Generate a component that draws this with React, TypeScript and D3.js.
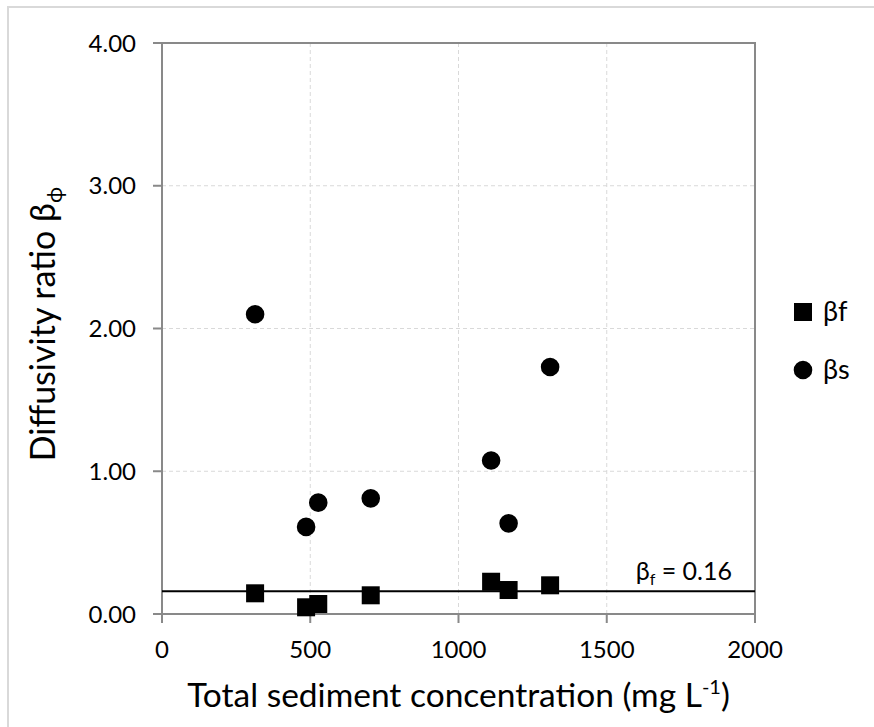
import React from "react";
import * as d3 from "d3";

const concentration = [314, 486, 527, 704, 1110, 1169, 1309];
const betaF = [0.145, 0.047, 0.07, 0.131, 0.226, 0.168, 0.201];
const betaS = [2.1, 0.61, 0.78, 0.81, 1.075, 0.635, 1.73];
const betaFMean = 0.16;
const xTicks = [0, 500, 1000, 1500, 2000];
const yTicks = [0, 1, 2, 3, 4];

const FONT = "Lato, 'Open Sans', sans-serif";

export default function App() {
  const W = 874, H = 727;
  const x = d3.scaleLinear().domain([0, 2000]).range([162, 755]);
  const y = d3.scaleLinear().domain([0, 4]).range([614, 43]);
  const sq = 18;
  const axisColor = "#898989";
  const gridColor = "#d9d9d9";
  const circleSym = d3.symbol().type(d3.symbolCircle).size(Math.PI * 9.3 * 9.3)();

  return (
    <svg width={W} height={H} style={{ position: "absolute", left: 0, top: 0, background: "#fff" }} fontFamily={FONT}>
      <rect x={8} y={7} width={W} height={H} fill="#fff" stroke={gridColor} strokeWidth={2} />
      {/* grid */}
      {xTicks.slice(1, -1).map((t) => (
        <line key={"gx" + t} x1={x(t)} x2={x(t)} y1={y(4)} y2={y(0)} stroke={gridColor} strokeWidth={1} strokeDasharray="4,3" />
      ))}
      {yTicks.slice(1, -1).map((t) => (
        <line key={"gy" + t} x1={x(0)} x2={x(2000)} y1={y(t)} y2={y(t)} stroke={gridColor} strokeWidth={1} strokeDasharray="4,3" />
      ))}
      {/* frame */}
      <rect x={x(0)} y={y(4)} width={x(2000) - x(0)} height={y(0) - y(4)} fill="none" stroke={axisColor} strokeWidth={2} />
      {/* ticks */}
      {xTicks.map((t) => (
        <g key={"xt" + t}>
          <line x1={x(t)} x2={x(t)} y1={y(0)} y2={y(0) + 9} stroke={axisColor} strokeWidth={2} />
          <text x={x(t)} y={658} textAnchor="middle" fontSize={24} fill="#000">{t}</text>
        </g>
      ))}
      {yTicks.map((t) => (
        <g key={"yt" + t}>
          <line x1={x(0) - 9} x2={x(0)} y1={y(t)} y2={y(t)} stroke={axisColor} strokeWidth={2} />
          <text x={136} y={y(t) + 8.5} textAnchor="end" fontSize={24} fill="#000">{t.toFixed(2)}</text>
        </g>
      ))}
      {/* reference line */}
      <line x1={x(0)} x2={x(2000)} y1={y(betaFMean)} y2={y(betaFMean)} stroke="#000" strokeWidth={2} />
      <text x={732} y={580} textAnchor="end" fontSize={25} fill="#000">
        β<tspan fontSize={16} dy={5}>f</tspan><tspan dy={-5}> = 0.16</tspan>
      </text>
      {/* points */}
      {concentration.map((c, i) => (
        <path key={"s" + i} d={circleSym} transform={`translate(${x(c)},${y(betaS[i])})`} fill="#000" />
      ))}
      {concentration.map((c, i) => (
        <rect key={"f" + i} x={x(c) - sq / 2} y={y(betaF[i]) - sq / 2} width={sq} height={sq} fill="#000" />
      ))}
      {/* axis titles */}
      <text x={(x(0) + x(2000)) / 2} y={707} textAnchor="middle" fontSize={33.5} fill="#000">
        Total sediment concentration (mg L<tspan fontSize={20} dy={-13}>-1</tspan><tspan dy={13}>)</tspan>
      </text>
      <text transform={`translate(55,${324}) rotate(-90)`} textAnchor="middle" fontSize={34} fill="#000">
        Diffusivity ratio β<tspan fontSize={22} dy={7}>ϕ</tspan>
      </text>
      {/* legend */}
      <rect x={803 - 9} y={312 - 9} width={18} height={18} fill="#000" />
      <text x={823} y={321} fontSize={27} fill="#000">βf</text>
      <path d={circleSym} transform="translate(803,370)" fill="#000" />
      <text x={823} y={379} fontSize={27} fill="#000">βs</text>
    </svg>
  );
}
